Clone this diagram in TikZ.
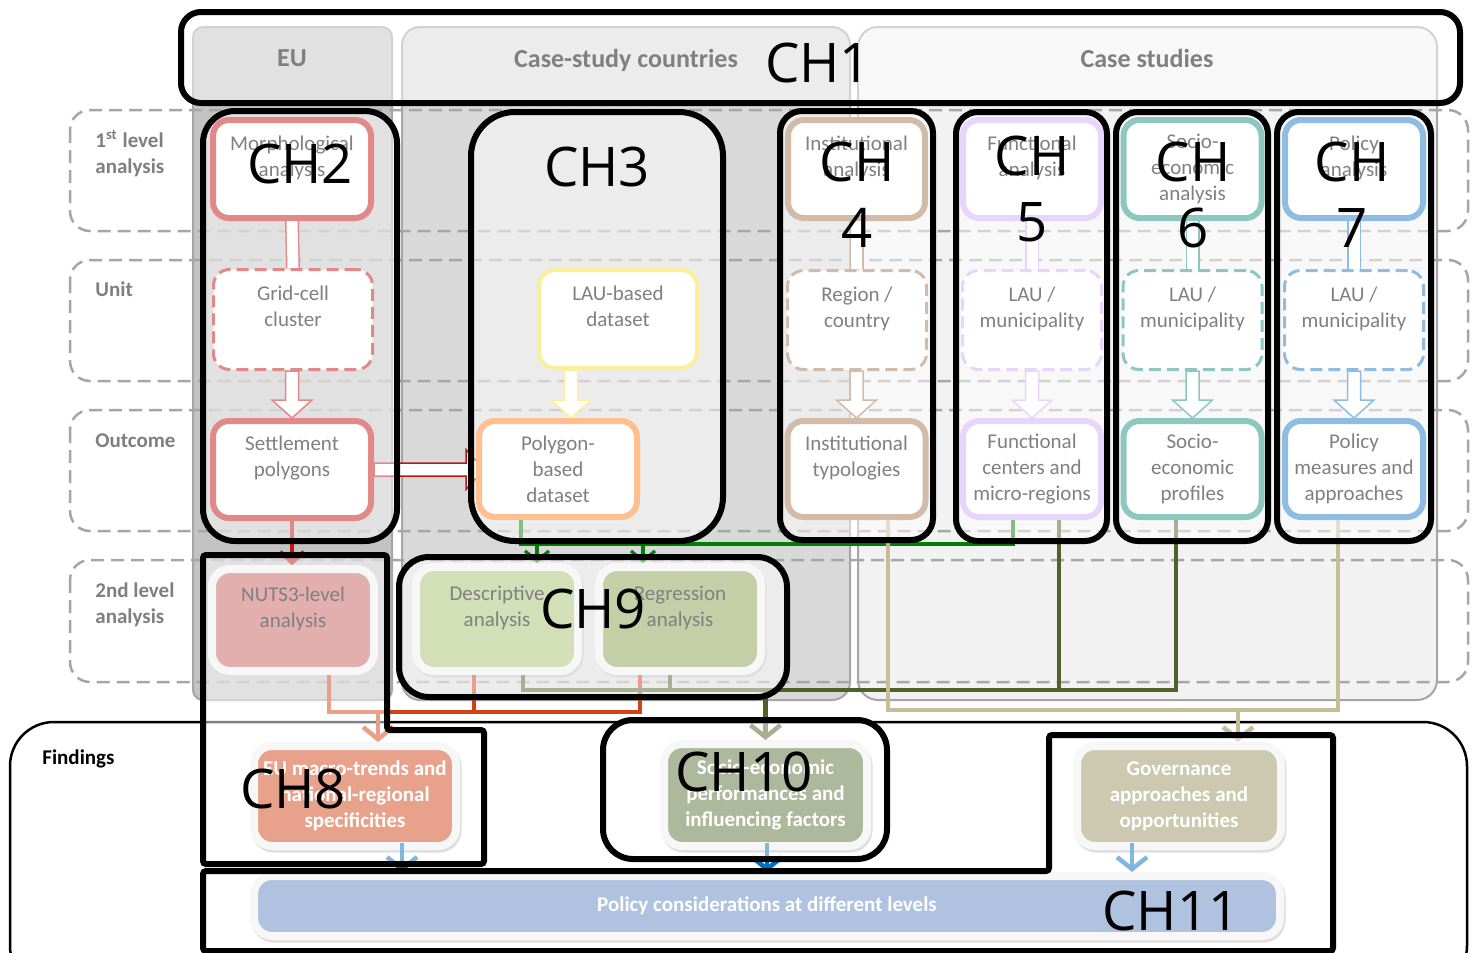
\documentclass[tikz,border=0pt]{standalone}
\usepackage{fontspec}
\setmainfont{Carlito}
\newfontfamily\chfont{Open Sans}
\usetikzlibrary{arrows.meta,calc}

\pgfdeclarelayer{back}
\pgfdeclarelayer{conn}
\pgfdeclarelayer{over}
\pgfsetlayers{back,conn,main,over}

% column and row colours
\definecolor{colEU}{HTML}{C3C3C3}
\definecolor{colCountry}{HTML}{D9D9D9}
\definecolor{colCase}{HTML}{F2F2F2}
\definecolor{colEdge}{HTML}{A6A6A6}
\definecolor{labGray}{HTML}{7F7F7F}
\definecolor{ringGray}{HTML}{EFEFEF}
% node colours
\definecolor{cRed}{HTML}{C41414}
\definecolor{cSalmon}{HTML}{C55E5E}
\definecolor{cOrRed}{HTML}{D2430F}
\definecolor{cMacro}{HTML}{D1461A}
\definecolor{cYellow}{HTML}{FBDD3A}
\definecolor{cOrange}{HTML}{FF7F1F}
\definecolor{cTan}{HTML}{A77753}
\definecolor{cLav}{HTML}{D3AAF8}
\definecolor{cTeal}{HTML}{1E8E86}
\definecolor{cBlue}{HTML}{1F7AC8}
\definecolor{cGreen}{HTML}{008000}
\definecolor{cOlive}{HTML}{4F6228}
\definecolor{cDesc}{HTML}{A7C16F}
\definecolor{cReg}{HTML}{899F51}
\definecolor{cPerf}{HTML}{5D7139}
\definecolor{cGov}{HTML}{9B9361}
\definecolor{cTanLine}{HTML}{C4BD97}
\definecolor{cPcons}{HTML}{5F85BF}
\definecolor{cArrowBlue}{HTML}{0070C0}

\tikzset{
  colbox/.style={draw=colEdge, line width=1pt},
  rowbox/.style={draw=colEdge, line width=1.25pt, dash pattern=on 6.5pt off 3.5pt, rounded corners=10pt},
  rowlab/.style={anchor=base west, inner sep=0pt, text=labGray, font=\fontsize{10.5}{13}\selectfont\bfseries},
  headlab/.style={anchor=base, inner sep=0pt, font=\fontsize{13}{15}\selectfont\bfseries},
  anbox/.style={draw=#1, line width=3pt, fill=white, rounded corners=8pt, inner sep=0pt,
                align=center, font=\fontsize{10.5}{13}\selectfont},
  unitbox/.style={draw=#1, line width=1.5pt, dash pattern=on 6pt off 3pt, fill=white,
                  rounded corners=8pt, inner sep=0pt, align=center, font=\fontsize{10.5}{13}\selectfont},
  wideA/.style={minimum width=79pt, minimum height=49pt},
  narrowA/.style={minimum width=69pt, minimum height=49pt},
  narrowU/.style={minimum width=69.5pt, minimum height=49.5pt},
  narrowO/.style={minimum width=69pt, minimum height=48pt},
  resbox/.style={fill=#1, draw=ringGray, line width=4pt, rounded corners=9pt, inner sep=0pt,
                 align=center, font=\fontsize{10.5}{13}\selectfont,
                 preaction={draw=black!25, line width=4pt, transform canvas={shift={(0.75pt,-1.25pt)}}}},
  findbox/.style={resbox=#1, text=white, font=\fontsize{10.5}{13}\selectfont\bfseries},
  linkdouble/.style={draw=#1, double=white, double distance=5.5pt, line width=0.75pt},
  rdl/.style={draw=cRed, line width=2.25pt},
  orl/.style={draw=cOrRed, line width=2.25pt},
  oll/.style={draw=cOlive, line width=2.25pt},
  grl/.style={draw=cGreen, line width=1.6pt},
  tnl/.style={draw=cTanLine, line width=2.25pt},
  bll/.style={draw=cArrowBlue, line width=2.25pt},
  chev/.style={-{Straight Barb[length=6pt,width=15pt]}},
  chevs/.style={-{Straight Barb[length=5pt,width=12pt]}},
  chbox/.style={draw=black, line width=3pt, fill=white, fill opacity=0.5},
  chlab/.style={inner sep=0pt, align=center, font=\chfont\fontsize{27.3}{33}\selectfont},
}

% hollow block arrow pointing down, tip at the second point
\newcommand\hollowdown[3]{%
  \filldraw[fill=white, draw=#3, line width=0.75pt]
    let \p1=(#1), \p2=(#2) in
    (\x2-3.25pt,\y1) -- (\x2-3.25pt,\y2+9pt) -- (\x2-10pt,\y2+9pt) -- (\x2,\y2)
    -- (\x2+10pt,\y2+9pt) -- (\x2+3.25pt,\y2+9pt) -- (\x2+3.25pt,\y1) -- cycle;}
% hollow block arrow pointing right
\newcommand\hollowright[3]{%
  \filldraw[fill=white, draw=#3, line width=0.75pt]
    let \p1=(#1), \p2=(#2) in
    (\x1,\y1+3.25pt) -- (\x2-9pt,\y1+3.25pt) -- (\x2-9pt,\y1+10pt) -- (\x2,\y1)
    -- (\x2-9pt,\y1-10pt) -- (\x2-9pt,\y1-3.25pt) -- (\x1,\y1-3.25pt) -- cycle;}

\begin{document}
\begin{tikzpicture}[x=0.5pt,y=-0.5pt]
\path[use as bounding box, clip] (0,0) rectangle (1474,953);

% ---------- columns, rows and the findings frame ----------
\begin{pgfonlayer}{back}
  \fill[white] (0,0) rectangle (1474,953);
  \draw[colbox, fill=colEU, rounded corners=5pt] (193,27) rectangle (392,700);
  \draw[colbox, fill=colCountry, rounded corners=9pt] (402,27) rectangle (850,700);
  \draw[colbox, fill=colCase, rounded corners=10pt] (858,27) rectangle (1437,700);
  \node[headlab] (hEU) at (292,66) {EU};
  \node[headlab] (hCountry) at (626,68) {Case-study countries};
  \node[headlab] (hCase) at (1147,68) {Case studies};

  \draw[rowbox] (70,110) rectangle (1468,231);
  \draw[rowbox] (70,260) rectangle (1468,381);
  \draw[rowbox] (70,410) rectangle (1468,531);
  \draw[rowbox] (70,560) rectangle (1468,682);

  \draw[line width=1.25pt, fill=white, rounded corners=22pt] (10,722) rectangle (1467,990);
\end{pgfonlayer}

\node[rowlab] (lvl1a) at (95,147) {1\textsuperscript{st} level};
\node[rowlab] (lvl1b) at (95,173) {analysis};
\node[rowlab] (unitlab) at (95,296) {Unit};
\node[rowlab] (outlab) at (95,447) {Outcome};
\node[rowlab] (lvl2a) at (95,597) {2nd level};
\node[rowlab] (lvl2b) at (95,623) {analysis};
\node[rowlab, text=black] (findlab) at (42,764) {Findings};

% ---------- analysis columns ----------
\node[anbox=cRed, wideA] (morph) at (292,169) {Morphological\\analysis\\\mbox{}};
\node[unitbox=cRed, minimum width=79.5pt, minimum height=50pt] (grid) at (293,319.5) {Grid-cell\\cluster\\\mbox{}};
\node[anbox=cRed, minimum width=79pt, minimum height=48.5pt] (settle) at (292,469.5) {Settlement\\polygons\\\mbox{}};

\node[anbox=cYellow, line width=2pt, wideA] (lau) at (618,319) {LAU-based\\dataset\\\mbox{}};
\node[anbox=cOrange, minimum width=79pt, minimum height=48pt] (poly) at (558,469) {Polygon-\\based\\dataset};

\node[anbox=cTan, narrowA, minimum width=68.5pt] (instA) at (856.5,169) {Institutional\\analysis\\\mbox{}};
\node[unitbox=cTan, narrowU] (region) at (857,320) {Region /\\country\\\mbox{}};
\node[anbox=cTan, narrowO] (instT) at (856.5,469) {Institutional\\typologies\\\mbox{}};

\node[anbox=cLav, narrowA] (funcA) at (1032,169) {Functional\\analysis\\\mbox{}};
\node[unitbox=cLav, narrowU] (lau5) at (1032,320) {LAU /\\municipality\\\mbox{}};
\node[anbox=cLav, narrowO] (funcC) at (1032,469) {Functional\\centers and\\micro-regions};

\node[anbox=cTeal, narrowA] (socA) at (1192.5,169) {Socio-\\economic\\analysis};
\node[unitbox=cTeal, narrowU] (lau6) at (1192.5,320) {LAU /\\municipality\\\mbox{}};
\node[anbox=cTeal, narrowO] (socP) at (1192.5,469) {Socio-\\economic\\profiles};

\node[anbox=cBlue, narrowA] (polA) at (1354,169) {Policy\\analysis\\\mbox{}};
\node[unitbox=cBlue, narrowU] (lau7) at (1354,320) {LAU /\\municipality\\\mbox{}};
\node[anbox=cBlue, narrowO] (polM) at (1354,469) {Policy\\measures and\\approaches};

% ---------- second level analysis ----------
\node[resbox=cSalmon, minimum width=81pt, minimum height=51pt] (nuts) at (293,620) {NUTS3-level\\analysis\\\mbox{}};
\node[resbox=cDesc, minimum width=81pt, minimum height=52pt] (desc) at (497,619) {Descriptive\\analysis\\\mbox{}};
\node[resbox=cReg, minimum width=81pt, minimum height=52pt] (reg) at (680,619) {Regression\\analysis\\\mbox{}};

% ---------- findings ----------
\node[findbox=cMacro, minimum width=101pt, minimum height=50pt] (macro) at (355,796) {EU macro-trends and\\national-regional\\specificities};
\node[findbox=cPerf, minimum width=101.5pt, minimum height=51pt] (perf) at (765.5,795) {Socio-economic\\performances and\\influencing factors};
\node[findbox=cGov, minimum width=102pt, minimum height=50pt] (gov) at (1179,796) {Governance\\approaches and\\opportunities};
\node[findbox=cPcons, minimum width=513pt, minimum height=30pt] (pcons) at (767,906) {Policy considerations at different levels};

% ---------- hollow links between the analysis steps ----------
\begin{pgfonlayer}{conn}
  \draw[linkdouble=cRed] (morph.south) -- (grid.north);
  \draw[linkdouble=cTan] (instA.south) -- (instA.south |- region.north);
  \draw[linkdouble=cLav] (funcA.south) -- (lau5.north);
  \draw[linkdouble=cTeal] (socA.south) -- (lau6.north);
  \draw[linkdouble=cBlue] (polA.south) -- (lau7.north);

  \hollowdown{grid.south}{settle.north}{cRed}
  \hollowdown{lau.south}{$(poly.north)+(13,0)$}{cYellow}
  \hollowdown{region.south}{instT.north}{cTan}
  \hollowdown{lau5.south}{funcC.north}{cLav}
  \hollowdown{lau6.south}{socP.north}{cTeal}
  \hollowdown{lau7.south}{polM.north}{cBlue}
  \hollowright{settle.east}{$(poly.west)+(8,0)$}{cRed}
\end{pgfonlayer}

% ---------- line connectors ----------
\draw[rdl, chevs] (settle.south) -- (settle.south |- nuts.north);

\draw[grl] ($(poly.south)+(-37,0)$) |- ($(funcC.south)+(-19,24)$) -- ($(funcC.south)+(-19,0)$);
\draw[grl, chevs] ($(desc.north)+(40,-18)$) -- ($(desc.north)+(40,0)$);
\draw[grl, chevs] ($(reg.north)+(-37,-18)$) -- ($(reg.north)+(-37,0)$);

\draw[orl] ($(nuts.south)+(36,0)$) |- ($(macro.north)+(23,-30)$);
\draw[orl] ($(desc.south)+(-23,0)$) |- ($(macro.north)+(23,-30)$);
\draw[orl] ($(reg.south)+(-40,0)$) |- ($(macro.north)+(23,-30)$);
\draw[orl, chev] ($(macro.north)+(23,-30)$) -- ($(macro.north)+(23,0)$);

\draw[oll] ($(desc.south)+(26,0)$) |- ($(perf.north)+(0,-50)$);
\draw[oll] ($(reg.south)+(-10,0)$) |- ($(perf.north)+(0,-50)$);
\draw[oll] ($(funcC.south)+(27,0)$) |- ($(perf.north)+(0,-50)$);
\draw[oll] ($(socP.south)+(-16.5,0)$) |- ($(perf.north)+(0,-50)$);
\draw[oll, chev] ($(perf.north)+(0,-50)$) -- (perf.north);

\draw[tnl] ($(instT.south)+(31.5,0)$) |- ($(polM.south)+(-16,190)$) -- ($(polM.south)+(-16,0)$);
\draw[tnl, chev] ($(gov.north)+(59,-32)$) -- ($(gov.north)+(59,0)$);

\draw[bll, chev] ($(macro.south)+(47,-7)$) -- ($(macro.south)+(47,22)$);
\draw[bll, chev] ($(perf.south)+(1.5,-7)$) -- ($(perf.south)+(1.5,22)$);
\draw[bll, chev] ($(gov.south)+(-47,-7)$) -- ($(gov.south)+(-47,22)$);

% ---------- chapter frames ----------
\begin{pgfonlayer}{over}
  \draw[chbox, rounded corners=10pt] (181,12) rectangle (1460,103);
  \draw[chbox, rounded corners=16pt] (203,111) rectangle (397,541);
  \draw[chbox, rounded corners=22pt] (471,112) rectangle (723,541);
  \draw[chbox, rounded corners=11pt] (780,111) rectangle (933,540);
  \draw[chbox, rounded corners=11pt] (956,112) rectangle (1107,541);
  \draw[chbox, rounded corners=11pt] (1116,112) rectangle (1268,541);
  \draw[chbox, rounded corners=11pt] (1277,112) rectangle (1431,541);
  \draw[chbox, rounded corners=1.5pt] (203,555) -- (387,555) -- (387,730) -- (484,730)
        -- (484,864) -- (203,864) -- cycle;
  \draw[chbox, rounded corners=15pt] (399,557) rectangle (787,697);
  \draw[chbox, rounded corners=15pt] (603,720) rectangle (887,859);
  \draw[chbox, rounded corners=1.5pt] (203,871) -- (1049,871) -- (1049,735) -- (1333,735)
        -- (1333,951) -- (203,951) -- cycle;

  \node[chlab] (ch1) at (818,63) {CH1};
  \node[chlab] (ch2) at (300,164) {CH2};
  \node[chlab] (ch3) at (597,167) {CH3};
  \node[chlab] (ch4) at (857,195) {CH\\4};
  \node[chlab] (ch5) at (1032,189) {CH\\5};
  \node[chlab] (ch6) at (1193,195) {CH\\6};
  \node[chlab] (ch7) at (1352,195) {CH\\7};
  \node[chlab] (ch8) at (293,789) {CH8};
  \node[chlab] (ch9) at (593,609) {CH9};
  \node[chlab] (ch10) at (744,772) {CH10};
  \node[chlab] (ch11) at (1171,911) {CH11};
\end{pgfonlayer}
\end{tikzpicture}
\end{document}
